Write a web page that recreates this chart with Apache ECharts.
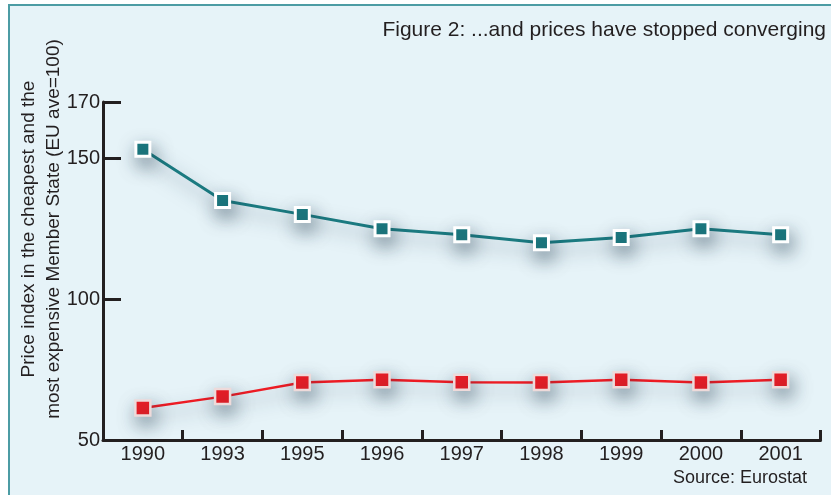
<!DOCTYPE html>
<html>
<head>
<meta charset="utf-8">
<script src="https://cdn.jsdelivr.net/npm/echarts@6/dist/echarts.min.js"></script>
<style>
html,body{margin:0;padding:0;background:#ffffff;}
#chart{width:831px;height:495px;}
</style>
</head>
<body>
<div id="chart"></div>
<script>
const years = ['1990','1993','1995','1996','1997','1998','1999','2000','2001'];
const mostExpensive = [153.2, 135.0, 130.1, 125.0, 122.9, 120.0, 121.9, 125.0, 122.9];
const cheapest = [61.4, 65.4, 70.4, 71.4, 70.5, 70.4, 71.4, 70.4, 71.4];
const yTickValues = [100, 150, 170];
const yLabelValues = [50, 100, 150, 170];
const titleText = 'Figure 2: ...and prices have stopped converging';
const yAxisNameLines = ['Price index in the cheapest and the', 'most expensive Member State (EU ave=100)'];
const sourceText = 'Source: Eurostat';

const FONT = '"Liberation Sans", Arial, sans-serif';
const INK = '#231f20';
const shadow = {shadowBlur: 18, shadowColor: 'rgba(30,55,75,0.5)', shadowOffsetX: 3, shadowOffsetY: 8};

const chart = echarts.init(document.getElementById('chart'), null, {renderer: 'canvas'});
chart.setOption({
  animation: false,
  backgroundColor: '#ffffff',
  graphic: [
    {type: 'rect', z: -10, shape: {x: 9, y: 5, width: 900, height: 600},
     style: {fill: '#e6f3f8', stroke: '#4c9ca4', lineWidth: 2}},
    {type: 'text', right: 5, top: 20,
     style: {text: titleText, font: '21px ' + FONT, fill: INK}},
    {type: 'text', x: 41, y: 229, rotation: Math.PI / 2,
     style: {text: yAxisNameLines.join('\n'), font: '19px ' + FONT, fill: INK,
             align: 'center', verticalAlign: 'middle', lineHeight: 25}},
    {type: 'text', right: 24, top: 469,
     style: {text: sourceText, font: '18px ' + FONT, fill: INK}}
  ],
  grid: {left: 103, right: 10.5, top: 102, bottom: 55},
  xAxis: {
    type: 'category',
    data: years,
    boundaryGap: true,
    axisLine: {lineStyle: {color: INK, width: 3}},
    axisTick: {show: true, inside: true, length: 10, interval: 0, lineStyle: {color: INK, width: 3}},
    axisLabel: {margin: 4, fontSize: 20, fontFamily: FONT, color: INK, interval: 0},
    splitLine: {show: false}
  },
  yAxis: {
    type: 'value',
    min: 50, max: 170, interval: 10,
    axisLine: {show: true, lineStyle: {color: INK, width: 3}},
    axisTick: {show: true, inside: true, length: 18, customValues: yTickValues, lineStyle: {color: INK, width: 3}},
    axisLabel: {margin: 3, fontSize: 20, fontFamily: FONT, color: INK, customValues: yLabelValues},
    splitLine: {show: false}
  },
  series: [
    {
      type: 'line', data: mostExpensive, symbol: 'rect', symbolSize: 14,
      lineStyle: Object.assign({color: '#1b7a80', width: 3}, shadow),
      itemStyle: Object.assign({color: '#1b7a80', borderColor: '#ffffff', borderWidth: 3}, shadow)
    },
    {
      type: 'line', data: cheapest, symbol: 'rect', symbolSize: 15,
      lineStyle: Object.assign({color: '#ed1c24', width: 2.5}, shadow),
      itemStyle: Object.assign({color: '#ed1c24', borderColor: '#eedada', borderWidth: 2.5}, shadow)
    }
  ]
});
</script>
</body>
</html>
